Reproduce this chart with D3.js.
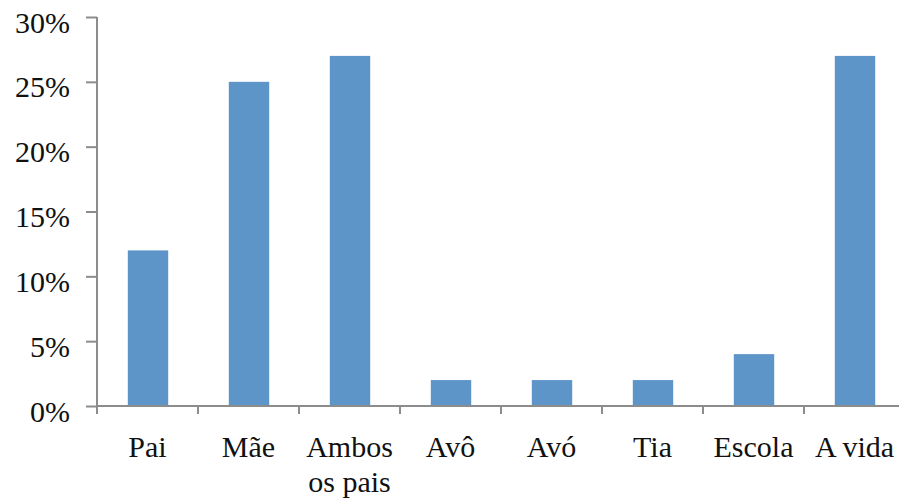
<!DOCTYPE html>
<html>
<head>
<meta charset="utf-8">
<script src="https://cdn.jsdelivr.net/npm/d3@7"></script>
<style>
  html, body { margin: 0; padding: 0; background: #fff; }
  svg { display: block; }
</style>
</head>
<body>
<svg id="chart" width="899" height="501"></svg>
<script>
// Categories (label lines) and share of responses
const categories = ["Pai", "Mãe", "Ambos os pais", "Avô", "Avó", "Tia", "Escola", "A vida"];
const labelLines = [["Pai"], ["Mãe"], ["Ambos", "os pais"], ["Avô"], ["Avó"], ["Tia"], ["Escola"], ["A vida"]];
const values = [0.12, 0.25, 0.27, 0.02, 0.02, 0.02, 0.04, 0.27];
const yTicks = [0, 0.05, 0.10, 0.15, 0.20, 0.25, 0.30];

const serif = "'Liberation Serif', 'Times New Roman', serif";
const svg = d3.select("#chart");
const axisColor = "#8c8c8c";
const barColor = "#5e95c9";

const x = d3.scaleBand().domain(categories).range([97, 905]).padding(0);
const y = d3.scaleLinear().domain([0, 0.30]).range([406, 17]);

// Bars
svg.append("g").selectAll("rect")
  .data(values)
  .join("rect")
  .attr("x", (d, i) => x(categories[i]) + x.bandwidth() * 0.305)
  .attr("width", x.bandwidth() * 0.4)
  .attr("y", d => y(d))
  .attr("height", d => y(0) - y(d))
  .attr("fill", barColor);

// Y axis
const yAxis = svg.append("g")
  .attr("transform", "translate(97,0)")
  .call(d3.axisLeft(y).tickValues(yTicks).tickFormat(d3.format(".0%")).tickSize(11).tickPadding(16));
yAxis.select(".domain").attr("stroke", axisColor).attr("stroke-width", 2).attr("d", `M0,${y(0.30)}V${y(0)}`);
yAxis.selectAll(".tick line").attr("stroke", axisColor).attr("stroke-width", 2);
yAxis.selectAll(".tick text")
  .style("font-family", serif).style("font-size", "30px").attr("fill", "#111")
  .attr("dy", "0.5em");

// X axis with ticks at category boundaries
const xg = svg.append("g");
xg.append("line")
  .attr("x1", 96).attr("x2", 899)
  .attr("y1", y(0)).attr("y2", y(0))
  .attr("stroke", axisColor).attr("stroke-width", 2);
const bounds = categories.map(c => x(c));
xg.selectAll("line.tick")
  .data(bounds)
  .join("line")
  .attr("class", "tick")
  .attr("x1", d => d).attr("x2", d => d)
  .attr("y1", y(0)).attr("y2", y(0) + 8)
  .attr("stroke", axisColor).attr("stroke-width", 2);

// Category labels
const lbl = svg.append("g").selectAll("text")
  .data(categories)
  .join("text")
  .attr("x", d => x(d) + x.bandwidth() / 2)
  .attr("y", 457)
  .attr("text-anchor", "middle")
  .style("font-family", serif)
  .style("font-size", "30px")
  .attr("fill", "#111");
lbl.each(function (d, i) {
  const t = d3.select(this);
  labelLines[i].forEach((line, j) => {
    t.append("tspan")
      .attr("x", x(d) + x.bandwidth() / 2)
      .attr("dy", j === 0 ? 0 : 35)
      .text(line);
  });
});
</script>
</body>
</html>
